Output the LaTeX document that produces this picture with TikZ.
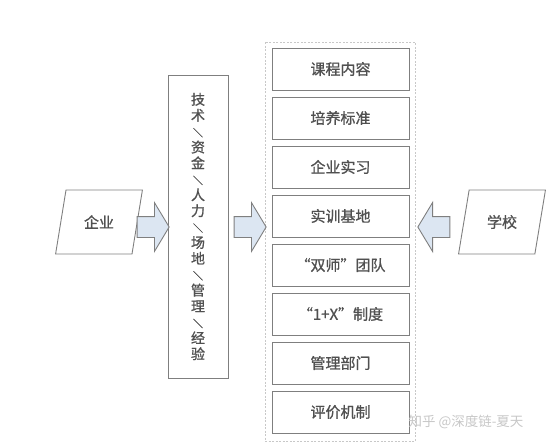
\documentclass[tikz,border=0pt]{standalone}
\usepackage{fontspec}
\newfontfamily\cjk{Noto Sans CJK SC}[AutoFakeBold=1]
\usepackage{tikz}
\usetikzlibrary{shapes.geometric,shapes.arrows,positioning}

\definecolor{boxgray}{HTML}{7F7F7F}
\definecolor{txtgray}{HTML}{505050}
\definecolor{arrowfill}{HTML}{DCE6F2}
\definecolor{dashgray}{HTML}{C8C8C8}

\newcommand{\vsep}{{\fontsize{10}{10}\selectfont ＼}}

\tikzset{
  item/.style={draw=boxgray,line width=1pt,minimum width=137,minimum height=42,
    inner sep=0,text=txtgray,font=\cjk\bfseries\fontsize{15}{15}\selectfont},
  party/.style={trapezium,trapezium left angle=74,trapezium right angle=106,
    trapezium stretches=true,draw=boxgray,line width=0.9pt,minimum width=87,
    minimum height=64,text=txtgray,font=\cjk\bfseries\fontsize{15}{15}\selectfont},
  blockarrow/.style={single arrow,draw=boxgray,fill=arrowfill,line width=0.9pt,
    inner xsep=0,inner ysep=10,single arrow head extend=14,
    single arrow tip angle=118,minimum height=32}
}

\begin{document}
\begin{tikzpicture}[x=1pt,y=-1pt]
        \useasboundingbox (0,0) rectangle (554,445);

        % enterprise and school
        \node[party] (firm) at (99,222) {企业};
        \node[party] (school) at (502,222) {学校};

        % resources
        \node[draw=boxgray,line width=1pt,minimum width=60,minimum height=303,
          inner sep=0,align=center,text=txtgray,
          font=\cjk\bfseries\fontsize{14}{15.9}\selectfont] (res) at (198,226.5)
          {技\\术\\\vsep\\资\\金\\\vsep\\人\\力\\\vsep\\场\\地\\\vsep\\管\\理\\\vsep\\经\\验};

        % dashed frame around the items
        \draw[dashgray,dashed,dash pattern=on 2pt off 1.5pt,line width=0.8pt] (265,42) rectangle (415,441);

        \foreach \t [count=\i] in {课程内容,培养标准,企业实习,实训基地,“双师”团队,“1+X”制度,管理部门,评价机制}
          \node[item] (b\i) at (340.5,{69+49*(\i-1)}) {\t};

        % arrows
        \node[blockarrow] (a1) at (150,227) {};
        \node[blockarrow] (a2) at (247,227) {};
        \node[blockarrow,shape border rotate=180] (a3) at (437,227) {};

        \node[text=black!22,font=\cjk\fontsize{13.5}{13.5}\selectfont] (mark) at (466,422) {知乎 @深度链-夏天};

      \end{tikzpicture}
\end{document}
